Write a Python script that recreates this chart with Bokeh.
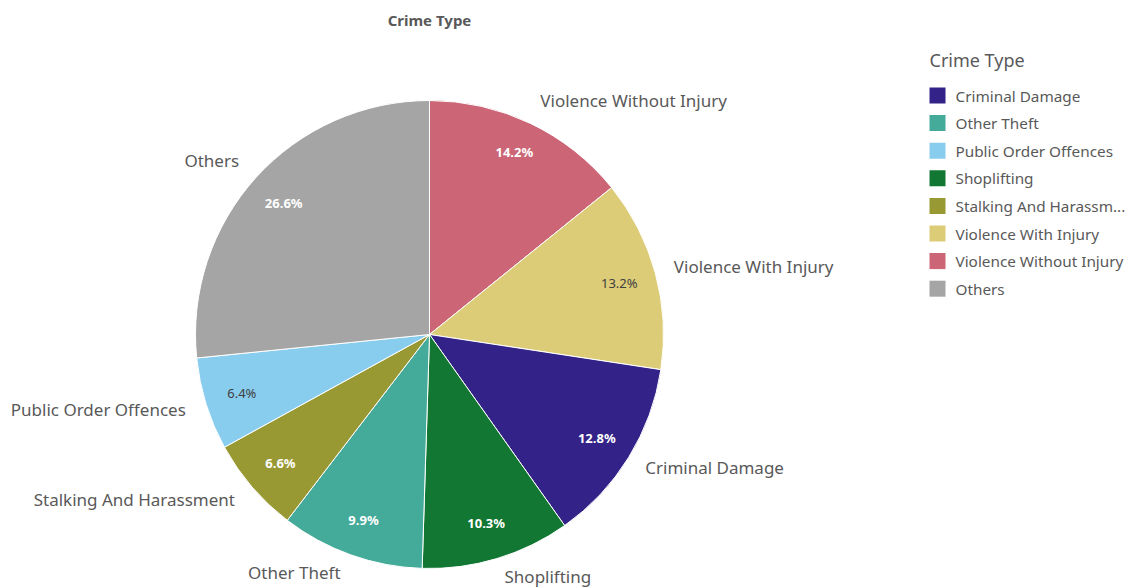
import math
from bokeh.plotting import figure
from bokeh.models import ColumnDataSource, Range1d
from bokeh.core.properties import value
from bokeh.embed import file_html
from bokeh.resources import INLINE

# ---- data ----
title_text = "Crime Type"
slice_names = ["Violence Without Injury", "Violence With Injury", "Criminal Damage",
               "Shoplifting", "Other Theft", "Stalking And Harassment",
               "Public Order Offences", "Others"]
slice_pct = [14.2, 13.2, 12.8, 10.3, 9.9, 6.6, 6.4, 26.6]
legend_names = ["Criminal Damage", "Other Theft", "Public Order Offences", "Shoplifting",
                "Stalking And Harassm...", "Violence With Injury", "Violence Without Injury",
                "Others"]
legend_keys = ["Criminal Damage", "Other Theft", "Public Order Offences", "Shoplifting",
               "Stalking And Harassment", "Violence With Injury", "Violence Without Injury",
               "Others"]
palette = {
    "Criminal Damage": "#332288",
    "Other Theft": "#44AA99",
    "Public Order Offences": "#88CCEE",
    "Shoplifting": "#117733",
    "Stalking And Harassment": "#999933",
    "Violence With Injury": "#DDCC77",
    "Violence Without Injury": "#CC6677",
    "Others": "#A5A5A5",
}

W, H = 1130, 588
FONT = "Noto Sans"

def py(y):  # reference y (top-down) -> data y
    return H - y

def px(x):
    return x

cx, cy = px(429), py(334)
R = 234

p = figure(width=W, height=H, output_backend="svg", toolbar_location=None,
           x_range=Range1d(0, W), y_range=Range1d(0, H), min_border=0)
p.axis.visible = False
p.grid.visible = False
p.outline_line_color = None
p.background_fill_color = "white"
p.border_fill_color = "white"

total = sum(slice_pct)
starts, ends, mids = [], [], []
acc = 0.0
for v in slice_pct:
    a0 = math.pi / 2 - 2 * math.pi * acc / total
    acc += v
    a1 = math.pi / 2 - 2 * math.pi * acc / total
    starts.append(a0)
    ends.append(a1)
    mids.append((a0 + a1) / 2)

colors = [palette[n] for n in slice_names]

def is_light(hexc):
    r, g, b = int(hexc[1:3], 16), int(hexc[3:5], 16), int(hexc[5:7], 16)
    return 0.299 * r + 0.587 * g + 0.114 * b > 170

src = ColumnDataSource(dict(start=starts, end=ends, color=colors))
p.wedge(x=cx, y=cy, radius=R, start_angle="start", end_angle="end", direction="clock",
        fill_color="color", line_color="white", line_width=1, source=src)

# percent labels
lr = 0.84 * R
pct_src = ColumnDataSource(dict(
    x=[cx + lr * math.cos(m) for m in mids],
    y=[cy + lr * math.sin(m) + (5 if math.sin(m) > 0.8 else 0) for m in mids],
    t=["%.1f%%" % v for v in slice_pct],
    c=["#404040" if is_light(c) else "white" for c in colors],
    s=["normal" if is_light(c) else "bold" for c in colors],
))
p.text(x="x", y="y", text="t", text_color="c", text_font=value(FONT),
       text_font_style="s", text_font_size="13px", text_align="center",
       text_baseline="middle", source=pct_src)

# outer labels
orr = R + 10
ox, oy, oal = [], [], []
for m in mids:
    c, s = math.cos(m), math.sin(m)
    ox.append(cx + orr * c + (4 if c >= 0 else -4) + 6 * c - 1)
    oy.append(cy + orr * s + (15 if s > 0 else 9) * s)
    oal.append("left" if c >= 0 else "right")
out_src = ColumnDataSource(dict(x=ox, y=oy, t=slice_names, a=oal))
p.text(x="x", y="y", text="t", text_align="a", text_baseline="middle",
       text_font=value(FONT), text_font_size="17px", text_color="#595959", source=out_src)

# title
p.text(x=[px(429)], y=[py(19)], text=[title_text], text_font=value(FONT),
       text_font_style="bold", text_font_size="15px", text_color="#595959",
       text_align="center", text_baseline="middle")

# legend
lx = px(929)
ly0 = py(95)
step = 27.6
p.text(x=[lx], y=[py(59)], text=[title_text], text_font=value(FONT), text_font_size="18px",
       text_color="#595959", text_align="left", text_baseline="middle")
leg_src = ColumnDataSource(dict(
    x=[lx + 8] * len(legend_names),
    y=[ly0 - i * step for i in range(len(legend_names))],
    tx=[px(955)] * len(legend_names),
    t=legend_names,
    c=[palette[k] for k in legend_keys],
))
p.rect(x="x", y="y", width=16, height=16, fill_color="c", line_color=None, source=leg_src)
p.text(x="tx", y="y", text="t", text_font=value(FONT), text_font_size="15.3px",
       text_color="#595959", text_align="left", text_baseline="middle", source=leg_src)

open("out.html", "w").write(file_html(p, INLINE))
